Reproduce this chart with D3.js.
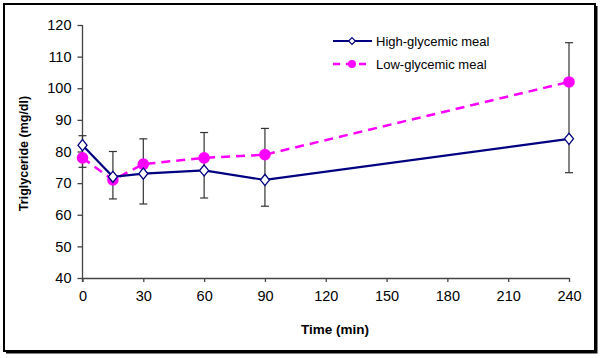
<!DOCTYPE html>
<html>
<head>
<meta charset="utf-8">
<script src="https://cdn.jsdelivr.net/npm/d3@7"></script>
<style>
  body { margin: 0; background: #fff; }
  text { font-family: Arial, "Liberation Sans", sans-serif; }
</style>
</head>
<body>
<div id="chart"></div>
<script>
// Data
const times = [0, 15, 30, 60, 90, 240];
const highGlycemic = [82, 72, 73, 74, 71, 84];
const lowGlycemic = [78, 71, 76, 78, 79, 102];
// error bar ends (top / bottom) at each time point
const errTop = [85, 80, 84, 86, 87.3, 114.4];
const errBottom = [75, 65, 63.4, 65.3, 62.7, 73.3];
const xTicks = [0, 30, 60, 90, 120, 150, 180, 210, 240];
const yTicks = [40, 50, 60, 70, 80, 90, 100, 110, 120];

const width = 600;
const height = 358;
const margin = { top: 25, right: 31, bottom: 80, left: 82.5 };

const svg = d3.select("#chart")
    .append("svg")
    .attr("width", width)
    .attr("height", height);

// frame with shadow
svg.append("rect")
    .attr("x", 4).attr("y", 4)
    .attr("width", 591).attr("height", 347)
    .attr("fill", "none").attr("stroke", "#000").attr("stroke-width", 2);
svg.append("path")
    .attr("d", "M6,352.5H596.5V6")
    .attr("fill", "none").attr("stroke", "#000").attr("stroke-width", 2);

const x = d3.scaleLinear()
    .domain([0, 240])
    .range([margin.left, width - margin.right]);

const y = d3.scaleLinear()
    .domain([40, 120])
    .range([height - margin.bottom, margin.top]);

// Axes
const xAxis = svg.append("g")
    .attr("transform", `translate(0,${y(40)})`)
    .call(d3.axisBottom(x).tickValues(xTicks).tickSize(4).tickPadding(9).tickSizeOuter(0));

const yAxis = svg.append("g")
    .attr("transform", `translate(${x(0)},0)`)
    .call(d3.axisLeft(y).tickValues(yTicks).tickSize(5).tickPadding(6).tickSizeOuter(0));

[xAxis, yAxis].forEach(g => {
    g.select(".domain").attr("stroke", "#444").attr("stroke-width", 1.3);
    g.selectAll(".tick line").attr("stroke", "#444").attr("stroke-width", 1.3);
    g.selectAll(".tick text").attr("fill", "#000").style("font-size", "14.5px")
        .style("font-family", "Arial, 'Liberation Sans', sans-serif");
});
yAxis.select(".domain").attr("d", `M0,${y(40) + 4}V${y(120)}`);

// Axis titles
svg.append("text")
    .attr("x", 335).attr("y", 334)
    .attr("text-anchor", "middle")
    .style("font-size", "13.5px").style("font-weight", "bold")
    .text("Time (min)");

svg.append("text")
    .attr("transform", `translate(28,${y(80) + 2}) rotate(-90)`)
    .attr("text-anchor", "middle")
    .style("font-size", "12.5px").style("font-weight", "bold")
    .text("Triglyceride  (mg/dl)");

// Error bars
const errs = times.map((t, i) => ({ t, top: errTop[i], bottom: errBottom[i] }));
const eb = svg.append("g").attr("stroke", "#333").attr("stroke-width", 1.2);
eb.selectAll("line.v").data(errs).enter().append("line")
    .attr("x1", d => x(d.t)).attr("x2", d => x(d.t))
    .attr("y1", d => y(d.top)).attr("y2", d => y(d.bottom));
eb.selectAll("line.t").data(errs).enter().append("line")
    .attr("x1", d => x(d.t) - 4).attr("x2", d => x(d.t) + 4)
    .attr("y1", d => y(d.top)).attr("y2", d => y(d.top));
eb.selectAll("line.b").data(errs).enter().append("line")
    .attr("x1", d => x(d.t) - 4).attr("x2", d => x(d.t) + 4)
    .attr("y1", d => y(d.bottom)).attr("y2", d => y(d.bottom));

const line = d3.line().x(d => x(d[0])).y(d => y(d[1]));
const lowPts = times.map((t, i) => [t, lowGlycemic[i]]);
const highPts = times.map((t, i) => [t, highGlycemic[i]]);

// Low-glycemic (dashed magenta)
svg.append("path")
    .datum(lowPts)
    .attr("d", line)
    .attr("fill", "none")
    .attr("stroke", "#ff00ff")
    .attr("stroke-width", 2.5)
    .attr("stroke-dasharray", "9,6");

// High-glycemic (solid navy)
svg.append("path")
    .datum(highPts)
    .attr("d", line)
    .attr("fill", "none")
    .attr("stroke", "#000080")
    .attr("stroke-width", 2.2);

svg.selectAll("circle.low")
    .data(lowPts)
    .enter()
    .append("circle")
    .attr("cx", d => x(d[0]))
    .attr("cy", d => y(d[1]))
    .attr("r", 5.8)
    .attr("fill", "#ff00ff");

const diamond = d3.symbol().type(d3.symbolDiamond2).size(72);
svg.selectAll("path.high")
    .data(highPts)
    .enter()
    .append("path")
    .attr("transform", d => `translate(${x(d[0])},${y(d[1])}) scale(0.85,1.05)`)
    .attr("d", diamond)
    .attr("fill", "#fff")
    .attr("stroke", "#000080")
    .attr("stroke-width", 1.4);

// Legend
const leg = svg.append("g");
leg.append("line")
    .attr("x1", 333).attr("x2", 372).attr("y1", 41).attr("y2", 41)
    .attr("stroke", "#000080").attr("stroke-width", 2.2);
leg.append("path")
    .attr("transform", "translate(352,41)")
    .attr("d", d3.symbol().type(d3.symbolDiamond2).size(30))
    .attr("fill", "#fff").attr("stroke", "#000080").attr("stroke-width", 1.2);
leg.append("text")
    .attr("x", 376).attr("y", 46)
    .style("font-size", "13px")
    .text("High-glycemic meal");

leg.append("line")
    .attr("x1", 333).attr("x2", 372).attr("y1", 64).attr("y2", 64)
    .attr("stroke", "#ff00ff").attr("stroke-width", 2.5)
    .attr("stroke-dasharray", "7,6");
leg.append("circle")
    .attr("cx", 352).attr("cy", 64).attr("r", 4)
    .attr("fill", "#ff00ff");
leg.append("text")
    .attr("x", 376).attr("y", 69)
    .style("font-size", "13px")
    .text("Low-glycemic meal");
</script>
</body>
</html>
